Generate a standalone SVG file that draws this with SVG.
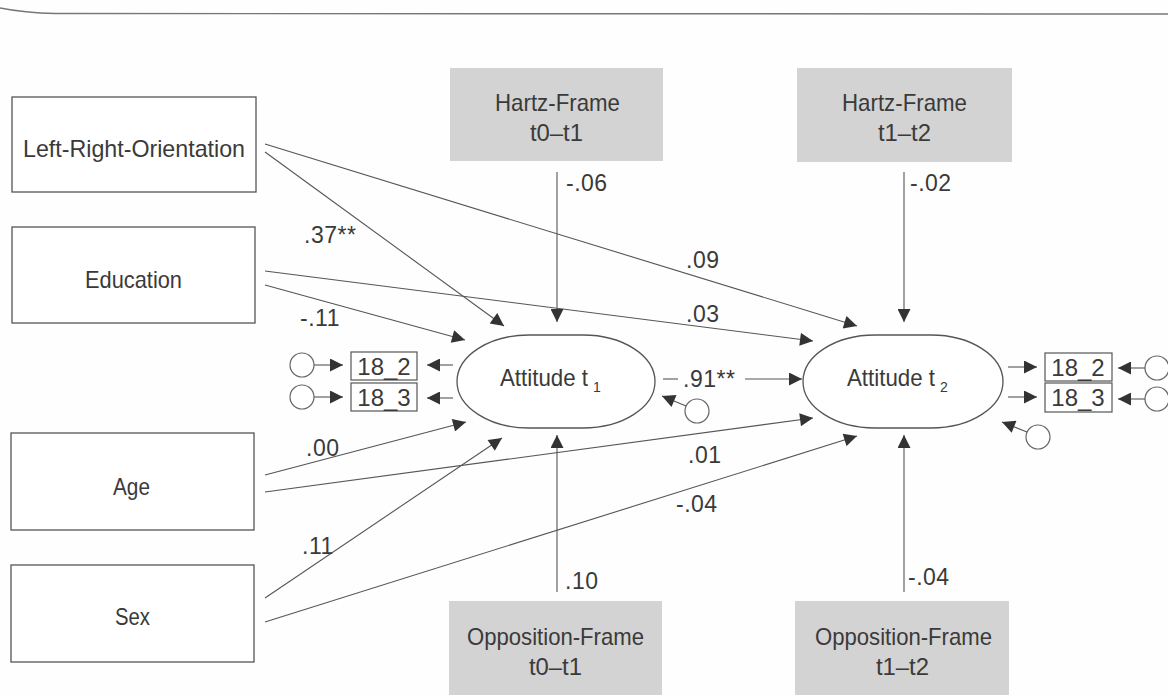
<svg xmlns="http://www.w3.org/2000/svg" width="1168" height="695" viewBox="0 0 1168 695">
  <defs>
    <marker id="ah" viewBox="0 0 10 10" refX="10" refY="5" markerWidth="15" markerHeight="13" markerUnits="userSpaceOnUse" orient="auto">
      <path d="M0,0 L10,5 L0,10 z" fill="#333"/>
    </marker>
    <style>
      text { font-family: "Liberation Sans", Arial, sans-serif; fill: #3a3a3a; font-size: 24px; }
      .mid { text-anchor: middle; }
      .box { fill: #fff; stroke: #555; stroke-width: 1.3; }
      .frame { fill: #d3d3d3; stroke: none; }
      .lat { fill: #fff; stroke: #555; stroke-width: 1.3; }
      .ind { fill: #fff; stroke: #555; stroke-width: 1.2; }
      .res { fill: #fff; stroke: #666; stroke-width: 1.2; }
      .edge { fill: none; stroke: #555; stroke-width: 1.1; marker-end: url(#ah); }
      .seg { fill: none; stroke: #555; stroke-width: 1.1; }
      .coef { font-size: 23px; letter-spacing: 0.5px; }
      .sub { font-size: 14px; }
    </style>
  </defs>

  <rect width="1168" height="695" fill="#fefefe"/>
  <!-- page rule at the top -->
  <path d="M0,8 C15,11 30,13 55,13.5 L1168,14" fill="none" stroke="#777" stroke-width="1.4"/>

  <!-- exogenous predictors -->
  <g id="left-right">
    <rect class="box" x="12" y="97" width="244" height="95"/>
    <text x="23" y="157" textLength="222" lengthAdjust="spacingAndGlyphs">Left-Right-Orientation</text>
  </g>
  <g id="education">
    <rect class="box" x="12" y="227" width="243" height="96"/>
    <text x="85" y="288" textLength="97" lengthAdjust="spacingAndGlyphs">Education</text>
  </g>
  <g id="age">
    <rect class="box" x="11" y="433" width="243" height="97"/>
    <text x="113" y="495" textLength="37" lengthAdjust="spacingAndGlyphs">Age</text>
  </g>
  <g id="sex">
    <rect class="box" x="11" y="565" width="243" height="97"/>
    <text x="115" y="625" textLength="35" lengthAdjust="spacingAndGlyphs">Sex</text>
  </g>

  <!-- framing variables -->
  <g id="hartz-t0t1">
    <rect class="frame" x="450" y="68" width="213" height="93"/>
    <text x="495" y="111" textLength="125" lengthAdjust="spacingAndGlyphs">Hartz-Frame</text>
    <text x="530" y="141" textLength="53" lengthAdjust="spacingAndGlyphs">t0–t1</text>
  </g>
  <g id="hartz-t1t2">
    <rect class="frame" x="797" y="68" width="215" height="94"/>
    <text x="842" y="111" textLength="125" lengthAdjust="spacingAndGlyphs">Hartz-Frame</text>
    <text x="878" y="141" textLength="53" lengthAdjust="spacingAndGlyphs">t1–t2</text>
  </g>
  <g id="opposition-t0t1">
    <rect class="frame" x="449" y="601" width="213" height="94"/>
    <text x="467" y="645" textLength="177" lengthAdjust="spacingAndGlyphs">Opposition-Frame</text>
    <text x="529" y="675" textLength="53" lengthAdjust="spacingAndGlyphs">t0–t1</text>
  </g>
  <g id="opposition-t1t2">
    <rect class="frame" x="795" y="601" width="214" height="94"/>
    <text x="815" y="645" textLength="177" lengthAdjust="spacingAndGlyphs">Opposition-Frame</text>
    <text x="876" y="675" textLength="53" lengthAdjust="spacingAndGlyphs">t1–t2</text>
  </g>

  <!-- latent attitudes -->
  <g id="attitude-t1">
    <rect class="lat" x="457" y="335" width="198" height="93" rx="72" ry="46.5"/>
    <text x="500" y="386" textLength="88" lengthAdjust="spacingAndGlyphs">Attitude t</text>
    <text class="sub" x="593" y="392">1</text>
  </g>
  <g id="attitude-t2">
    <rect class="lat" x="803" y="335" width="200" height="93" rx="72" ry="46.5"/>
    <text x="847" y="386" textLength="88" lengthAdjust="spacingAndGlyphs">Attitude t</text>
    <text class="sub" x="940" y="392">2</text>
  </g>

  <!-- indicators and their errors -->
  <g id="ind-t1-18_2">
    <rect class="ind" x="351" y="352" width="66" height="28"/>
    <text class="mid" x="384" y="375">18_2</text>
  </g>
  <g id="ind-t1-18_3">
    <rect class="ind" x="351" y="383" width="66" height="28"/>
    <text class="mid" x="384" y="406">18_3</text>
  </g>
  <g id="ind-t2-18_2">
    <rect class="ind" x="1045" y="353" width="67" height="28"/>
    <text class="mid" x="1078" y="376">18_2</text>
  </g>
  <g id="ind-t2-18_3">
    <rect class="ind" x="1045" y="383" width="67" height="29"/>
    <text class="mid" x="1078" y="406">18_3</text>
  </g>
  <g id="err-t1-1"><circle class="res" cx="302" cy="365" r="12"/></g>
  <g id="err-t1-2"><circle class="res" cx="302" cy="397" r="12"/></g>
  <g id="err-t2-1"><circle class="res" cx="1157" cy="368" r="12"/></g>
  <g id="err-t2-2"><circle class="res" cx="1157" cy="399" r="12"/></g>
  <g id="dist-t1"><circle class="res" cx="697" cy="411" r="12"/></g>
  <g id="dist-t2"><circle class="res" cx="1038" cy="437" r="12"/></g>

  <g id="connectors">
    <!-- predictors to attitudes -->
    <line class="edge" x1="265" y1="152" x2="504" y2="326"/>
    <line class="edge" x1="265" y1="144" x2="857" y2="326"/>
    <line class="edge" x1="265" y1="271" x2="813" y2="341"/>
    <line class="edge" x1="265" y1="285" x2="465" y2="340"/>
    <line class="edge" x1="265" y1="475" x2="466" y2="422"/>
    <line class="edge" x1="265" y1="492" x2="813" y2="418"/>
    <line class="edge" x1="265" y1="598" x2="502" y2="438"/>
    <line class="edge" x1="265" y1="622" x2="857" y2="436"/>
    <!-- frames to attitudes -->
    <line class="edge" x1="557" y1="172" x2="557" y2="322"/>
    <line class="edge" x1="904" y1="172" x2="904" y2="322"/>
    <line class="edge" x1="557" y1="592" x2="557" y2="435"/>
    <line class="edge" x1="904" y1="592" x2="904" y2="435"/>
    <!-- stability path -->
    <line class="seg" x1="663" y1="379" x2="678" y2="379"/>
    <line class="edge" x1="745" y1="379" x2="802" y2="379"/>
    <!-- disturbances -->
    <line class="edge" x1="686" y1="406" x2="662" y2="396"/>
    <line class="edge" x1="1027" y1="432" x2="1002" y2="422"/>
    <!-- measurement t1 -->
    <line class="edge" x1="453" y1="365" x2="427" y2="365"/>
    <line class="edge" x1="453" y1="398" x2="427" y2="398"/>
    <line class="edge" x1="314" y1="365" x2="343" y2="365"/>
    <line class="edge" x1="314" y1="397" x2="343" y2="397"/>
    <!-- measurement t2 -->
    <line class="edge" x1="1008" y1="367" x2="1037" y2="367"/>
    <line class="edge" x1="1008" y1="397" x2="1037" y2="397"/>
    <line class="edge" x1="1145" y1="368" x2="1118" y2="368"/>
    <line class="edge" x1="1145" y1="399" x2="1118" y2="399"/>
  </g>

  <!-- path coefficients -->
  <g id="coefficients">
    <text class="coef" x="304" y="243">.37**</text>
    <text class="coef" x="566" y="191">-.06</text>
    <text class="coef" x="910" y="191">-.02</text>
    <text class="coef" x="686" y="268">.09</text>
    <text class="coef" x="686" y="322">.03</text>
    <text class="coef" x="300" y="326">-.11</text>
    <text class="coef" x="683" y="387">.91**</text>
    <text class="coef" x="306" y="456">.00</text>
    <text class="coef" x="688" y="463">.01</text>
    <text class="coef" x="676" y="512">-.04</text>
    <text class="coef" x="302" y="554">.11</text>
    <text class="coef" x="565" y="589">.10</text>
    <text class="coef" x="908" y="585">-.04</text>
  </g>
</svg>
